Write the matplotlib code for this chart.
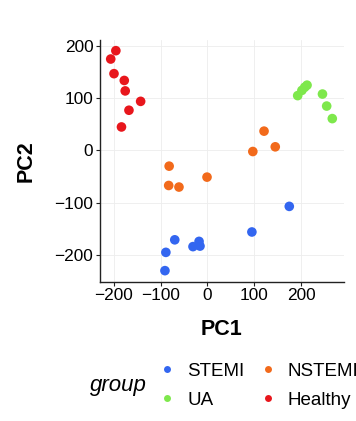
import matplotlib
matplotlib.use("Agg")
import matplotlib.pyplot as plt
from matplotlib.lines import Line2D

plt.rcParams['font.family'] = ['Liberation Sans', 'DejaVu Sans']

# PCA scores
groups = ['STEMI', 'NSTEMI', 'UA', 'Healthy']
colors = {'STEMI': '#3366F0', 'NSTEMI': '#F26A1B', 'UA': '#7EE84C', 'Healthy': '#E8161C'}

stemi_pc1 = [175, 95, -70, -89, -91, -31, -18, -16]
stemi_pc2 = [-107, -156, -171, -195, -230, -184, -174, -183]

nstemi_pc1 = [-82, -83, -61, -1, 97, 121, 145]
nstemi_pc2 = [-30, -67, -70, -51, -2, 37, 7]

ua_pc1 = [193, 202, 208, 213, 246, 255, 267]
ua_pc2 = [105, 115, 121, 125, 108, 85, 61]

healthy_pc1 = [-207, -196, -200, -178, -176, -143, -168, -184]
healthy_pc2 = [175, 191, 147, 134, 114, 94, 77, 45]

pc1 = {'STEMI': stemi_pc1, 'NSTEMI': nstemi_pc1, 'UA': ua_pc1, 'Healthy': healthy_pc1}
pc2 = {'STEMI': stemi_pc2, 'NSTEMI': nstemi_pc2, 'UA': ua_pc2, 'Healthy': healthy_pc2}

fig = plt.figure(figsize=(3.56, 4.21), dpi=100)
ax = fig.add_axes([0.2795, 0.3302, 0.6854, 0.5755])

for g in groups:
    ax.scatter(pc1[g], pc2[g], s=48, color=colors[g], edgecolors='none', zorder=3)

ax.set_xlim(-231, 291)
ax.set_ylim(-251.7, 212)
ax.set_xticks([-200, -100, 0, 100, 200])
ax.set_yticks([-200, -100, 0, 100, 200])
ax.grid(True, color='#EDEDED', linewidth=0.6, zorder=0)
ax.set_axisbelow(True)
for side in ['top', 'right']:
    ax.spines[side].set_visible(False)
for side in ['left', 'bottom']:
    ax.spines[side].set_color('#222222')
    ax.spines[side].set_linewidth(1.0)
ax.tick_params(colors='#222222', labelcolor='black', labelsize=12.4, length=3, width=0.8, pad=1.5)

ax.set_xlabel('PC1', fontsize=15.5, fontweight='bold', labelpad=11.5)
ax.set_ylabel('PC2', fontsize=15.5, fontweight='bold', labelpad=12.5)

# legend: ggplot style, title to the left
order = ['STEMI', 'UA', 'NSTEMI', 'Healthy']
handles = [Line2D([], [], marker='o', linestyle='', markersize=5,
                  markerfacecolor=colors[g], markeredgecolor='none') for g in order]
fig.legend(handles, order, ncol=2, loc='center left', bbox_to_anchor=(0.423, 0.084),
           frameon=False, fontsize=13.5, handlelength=0.8, handletextpad=0.67,
           columnspacing=0.83, labelspacing=0.65, borderpad=0)
fig.text(0.413, 0.084, 'group', fontsize=16, style='italic', ha='right', va='center')

fig.savefig('out.png', dpi=100)
